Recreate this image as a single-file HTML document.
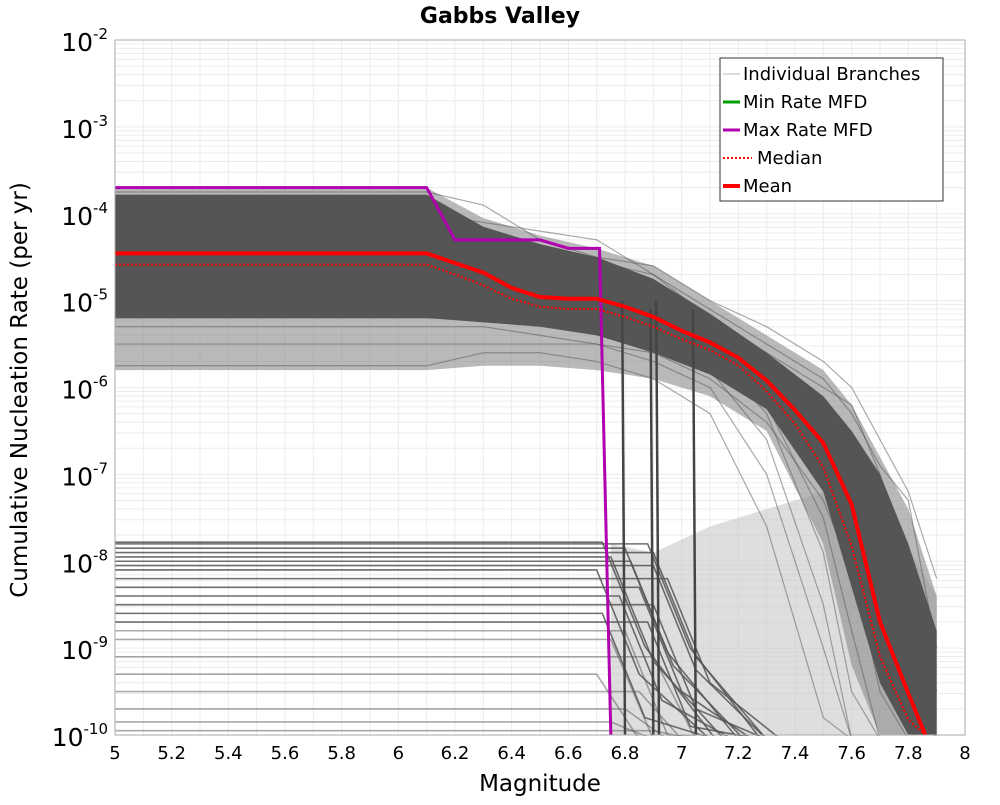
<!DOCTYPE html>
<html><head><meta charset="utf-8"><style>
body{margin:0;background:#fff;}
svg text{font-family:"DejaVu Sans","Liberation Sans",sans-serif;}
</style></head><body>
<svg id="chart" width="1000" height="800" xmlns="http://www.w3.org/2000/svg">
<rect x="0" y="0" width="1000" height="800" fill="#fff"/>
<g id="grid"></g><g id="branches"></g><g id="series"></g><g id="axes"></g>
<text x="500" y="23" text-anchor="middle" font-size="22" font-weight="bold">Gabbs Valley</text>
<text x="540" y="791" text-anchor="middle" font-size="23">Magnitude</text>
<text transform="translate(27,390) rotate(-90)" text-anchor="middle" font-size="23">Cumulative Nucleation Rate (per yr)</text>
<g>
<rect x="720" y="58" width="223" height="143" fill="#fff" stroke="#333" stroke-width="1"/>
<line x1="723" y1="74" x2="740" y2="74" stroke="#bbb" stroke-width="1"/>
<text x="743" y="80" font-size="18">Individual Branches</text>
<line x1="723" y1="102" x2="740" y2="102" stroke="#00a000" stroke-width="3"/>
<text x="743" y="108" font-size="18">Min Rate MFD</text>
<line x1="723" y1="130" x2="740" y2="130" stroke="#b000b0" stroke-width="3"/>
<text x="743" y="136" font-size="18">Max Rate MFD</text>
<line x1="723" y1="158" x2="752" y2="158" stroke="#f00" stroke-width="2" stroke-dasharray="2,2"/>
<text x="757" y="164" font-size="18">Median</text>
<line x1="723" y1="186" x2="740" y2="186" stroke="#f00" stroke-width="4"/>
<text x="743" y="192" font-size="18">Mean</text>
</g>
</svg>
<script>
const envMags=[5,6.1,6.3,6.5,6.7,6.9,7.1,7.3,7.5,7.6,7.7,7.8,7.9];
const envCoreUpper=[-3.78,-3.78,-4.15,-4.35,-4.5,-4.75,-5.15,-5.6,-6.1,-6.5,-7.0,-7.8,-8.8];
const envCoreLower=[-5.2,-5.2,-5.25,-5.3,-5.4,-5.6,-5.85,-6.25,-7.2,-8.3,-9.4,-10,-10];
const envOuterUpper=[-3.7,-3.7,-4.05,-4.25,-4.4,-4.6,-5.0,-5.4,-5.8,-6.2,-6.8,-7.4,-8.4];
const envOuterLower=[-5.8,-5.8,-5.75,-5.75,-5.8,-5.9,-6.1,-6.5,-7.8,-9.2,-10,-10,-10];
const faintMags=[6.75,6.9,7.1,7.3,7.5,7.7,7.9];
const faintUpper=[-7.8,-7.9,-7.6,-7.4,-7.2,-7.3,-8.4];
const faintLower=[-10,-10,-10,-10,-10,-10,-10];
const branchMags=[5,6.1,6.3,6.5,6.7,6.9,7.1,7.3,7.5,7.6,7.7,7.8,7.9];
const branches=[
[-3.75,-3.75,-3.9,-4.3,-4.5,-4.8,-5.2,-5.7,-6.2,-6.7,-7.6,-8.6,-10.2],
[-3.9,-3.9,-4.2,-4.4,-4.55,-4.7,-5.1,-5.5,-5.9,-6.3,-6.9,-7.3,-9.0],
[-4.1,-4.1,-4.3,-4.45,-4.6,-4.9,-5.3,-5.8,-6.5,-7.2,-8.2,-9.5,-10.2],
[-4.4,-4.4,-4.5,-4.6,-4.7,-5.0,-5.4,-6.0,-7.0,-8.0,-9.5,-10.2,-10.2],
[-4.6,-4.6,-4.7,-4.8,-4.9,-5.1,-5.5,-6.2,-7.5,-8.8,-10.2,-10.2,-10.2],
[-4.9,-4.9,-4.9,-5.0,-5.1,-5.3,-5.6,-6.3,-7.9,-9.5,-10.2,-10.2,-10.2],
[-5.2,-5.2,-5.2,-5.2,-5.3,-5.5,-5.8,-6.6,-8.5,-10.2,-10.2,-10.2,-10.2],
[-5.5,-5.5,-5.5,-5.5,-5.5,-5.7,-6.0,-7.0,-9.0,-10.2,-10.2,-10.2,-10.2],
[-5.75,-5.75,-5.6,-5.6,-5.7,-5.9,-6.3,-7.6,-9.8,-10.2,-10.2,-10.2,-10.2],
[-4.3,-4.3,-4.4,-4.4,-4.5,-4.6,-5.0,-5.3,-5.7,-6.0,-6.6,-7.2,-8.2],
[-4.0,-4.0,-4.1,-4.2,-4.3,-4.7,-5.2,-5.6,-6.0,-6.2,-7.0,-8.0,-9.5],
[-5.0,-5.0,-5.0,-5.1,-5.2,-5.4,-5.7,-6.1,-6.9,-7.5,-8.1,-8.6,-9.2],
[-5.3,-5.3,-5.3,-5.4,-5.5,-5.6,-5.9,-6.4,-7.3,-8.1,-8.7,-9.3,-9.8]
];
const lowerRates=[-7.78,-7.8,-7.85,-7.9,-7.95,-8.0,-8.05,-8.1,-8.2,-8.3,-8.4,-8.5,-8.6,-8.7,-8.8,-8.9,-9.1,-9.3,-9.5,-9.7,-9.85,-9.95];
const lowerEnds=[6.72,6.88,6.8,6.9,6.75,6.82,6.9,6.7,6.95,6.85,6.78,6.9,6.72,6.88,6.8,6.75,6.9,6.7,6.85,6.8,6.75,6.9];
const dropMags=[6.8,6.9,6.92,7.05];
const dropTops=[-5.0,-5.1,-5.0,-5.1];
const meanMags=[5,6.1,6.2,6.3,6.4,6.5,6.6,6.7,6.8,6.9,7.0,7.1,7.2,7.3,7.4,7.5,7.6,7.7,7.8,7.86];
const meanRates=[3.5e-5,3.5e-5,2.7e-5,2.1e-5,1.4e-5,1.1e-5,1.05e-5,1.05e-5,8.5e-6,6.5e-6,4.5e-6,3.3e-6,2.2e-6,1.2e-6,5.5e-7,2.3e-7,4.5e-8,2e-9,3e-10,1e-10];
const medianRates=[2.6e-5,2.6e-5,2.0e-5,1.5e-5,1.05e-5,8.5e-6,8.0e-6,8.0e-6,6.5e-6,5.0e-6,3.6e-6,2.7e-6,1.8e-6,9e-7,3.8e-7,1.2e-7,1.5e-8,8e-10,1.5e-10,1e-10];
const maxMags=[5,6.1,6.2,6.5,6.6,6.7,6.71,6.75];
const maxRates=[2e-4,2e-4,5e-5,5e-5,4e-5,4e-5,4e-5,1e-10];
const xTicks=[5,5.2,5.4,5.6,5.8,6,6.2,6.4,6.6,6.8,7,7.2,7.4,7.6,7.8,8];
const yDecades=[-2,-3,-4,-5,-6,-7,-8,-9,-10];

const X0=115,X1=965,Y0=40,Y1=735;
const sx=m=>X0+(m-5)/3*(X1-X0);
const syl=l=>Y0+(-2-l)/8*(Y1-Y0);
const sy=r=>syl(Math.log10(r));
const NS='http://www.w3.org/2000/svg';
function mk(tag,attrs,parent){const e=document.createElementNS(NS,tag);for(const k in attrs)e.setAttribute(k,attrs[k]);parent.appendChild(e);return e;}
const grid=document.getElementById('grid'),br=document.getElementById('branches'),se=document.getElementById('series'),ax=document.getElementById('axes');
for(let m=5.1;m<8;m+=0.1){const l=mk('line',{x1:sx(m),x2:sx(m),y1:Y0,y2:Y1,stroke:'#ececec'},grid);}
for(let d=-10;d<-2;d++)for(let k=1;k<10;k++){const y=syl(d+Math.log10(k));const l=mk('line',{x1:X0,x2:X1,y1:y,y2:y,stroke:'#ececec'},grid);}
function clip(v){return Math.max(v,-10.05);}
function poly(mags,ls){return mags.map((m,i)=>sx(m)+','+syl(clip(ls[i]))).join(' ');}
const faint=mk('polygon',{points:poly(faintMags,faintUpper)+' '+poly(faintMags.slice().reverse(),faintLower.slice().reverse()),fill:'#c8c8c8','fill-opacity':0.6},br);


const outer=mk('polygon',{points:poly(envMags,envOuterUpper)+' '+poly(envMags.slice().reverse(),envOuterLower.slice().reverse()),fill:'#8a8a8a','fill-opacity':0.6},br);


const core=mk('polygon',{points:poly(envMags,envCoreUpper)+' '+poly(envMags.slice().reverse(),envCoreLower.slice().reverse()),fill:'#555'},br);


branches.forEach(b=>{const p=mk('polyline',{points:poly(branchMags,b),fill:'none',stroke:'#555','stroke-opacity':0.5,'stroke-width':1.2},br);

});
lowerRates.forEach((r,i)=>{const e=lowerEnds[i];const p=mk('polyline',{points:`${sx(5)},${syl(r)} ${sx(e)},${syl(r)} ${sx(e+0.15)},${syl(Math.max(r-1.2,-10.05))} ${sx(e+0.4)},${syl(-10.05)}`,fill:'none',stroke:'#555','stroke-opacity':i<14?0.85:0.5,'stroke-width':1.6},br);

});
dropMags.forEach((m,i)=>{const p=mk('line',{x1:sx(m-0.01),y1:syl(dropTops[i]),x2:sx(m),y2:Y1,stroke:'#444','stroke-width':2.5},br);

});
function series(mags,rates,attrs){const a=Object.assign({points:mags.map((m,i)=>sx(m)+','+Math.min(sy(rates[i]),Y1+2)).join(' '),fill:'none'},attrs);return mk('polyline',a,se);}
const mx=series(maxMags,maxRates,{stroke:'#b000b0','stroke-width':3});


const md=series(meanMags,medianRates,{stroke:'#f00','stroke-width':2,'stroke-dasharray':'2,2'});


const mn=series(meanMags,meanRates,{stroke:'#f00','stroke-width':4});


const cover=mk('rect',{x:0,y:Y1+1,width:1000,height:65,fill:'#fff'},ax);


const frame=mk('rect',{x:X0,y:Y0,width:X1-X0,height:Y1-Y0,fill:'none',stroke:'#aaa'},ax);


xTicks.forEach(t=>{const tx=mk('text',{x:sx(t),y:759,'text-anchor':'middle','font-size':18},ax);tx.textContent=String(t);

});
yDecades.forEach(d=>{const tx=mk('text',{x:108,y:syl(d)+11,'text-anchor':'end','font-size':25},ax);


const a=document.createElementNS(NS,'tspan');a.textContent='10';tx.appendChild(a);
const b=document.createElementNS(NS,'tspan');b.setAttribute('dy','-12');b.setAttribute('font-size','15');b.textContent=String(d);tx.appendChild(b);});
</script>
</body></html>
